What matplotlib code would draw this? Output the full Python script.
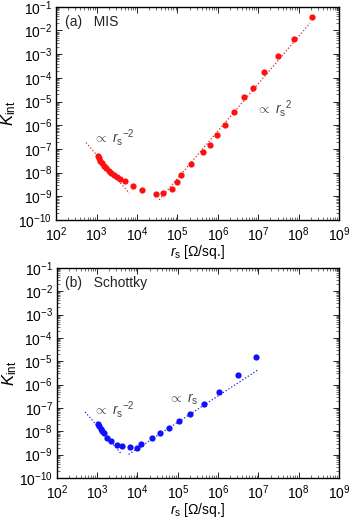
import numpy as np
import matplotlib
matplotlib.use('Agg')
import matplotlib.pyplot as plt
from matplotlib.ticker import LogLocator, NullFormatter

plt.rcParams['font.family'] = ['Liberation Sans', 'DejaVu Sans']
plt.rcParams['mathtext.fontset'] = 'custom'
plt.rcParams['mathtext.rm'] = 'Liberation Sans'
plt.rcParams['mathtext.it'] = 'Liberation Sans:italic'

# (a) MIS data, log10 values
mis_logr = [3.03, 3.05, 3.09, 3.13, 3.19, 3.24, 3.30, 3.36, 3.43, 3.50, 3.57, 3.71,
            3.89, 4.13, 4.46, 4.65, 4.87, 4.98, 5.09, 5.34, 5.63, 5.81, 5.97, 6.18,
            6.39, 6.65, 6.86, 7.15, 7.50, 7.88, 8.34]
mis_logk = [-7.29, -7.39, -7.49, -7.60, -7.71, -7.81, -7.91, -8.00, -8.08, -8.17, -8.26, -8.36,
            -8.55, -8.73, -8.88, -8.84, -8.69, -8.38, -8.12, -7.63, -7.11, -6.82, -6.43, -5.99,
            -5.46, -4.81, -4.43, -3.74, -3.09, -2.35, -1.42]
# guide lines (log10 endpoints)
mis_fit1_r = [2.74, 3.81]
mis_fit1_k = [-6.73, -8.87]
mis_fit2_r = [4.55, 8.28]
mis_fit2_k = [-9.15, -1.69]

# (b) Schottky data
sch_logr = [3.02, 3.05, 3.09, 3.13, 3.17, 3.24, 3.35, 3.49, 3.61, 3.82, 3.98, 4.09,
            4.37, 4.57, 4.78, 5.02, 5.31, 5.65, 6.03, 6.49, 6.93]
sch_logk = [-7.67, -7.77, -7.89, -7.99, -8.07, -8.29, -8.40, -8.57, -8.64, -8.69, -8.71, -8.54,
            -8.29, -8.07, -7.86, -7.56, -7.27, -6.83, -6.33, -5.60, -4.83]
sch_fit1_r = [2.70, 3.61]
sch_fit1_k = [-7.17, -8.99]
sch_fit2_r = [3.78, 6.97]
sch_fit2_k = [-8.99, -5.39]

fig = plt.figure(figsize=(3.51, 5.19), dpi=100)
ax1 = fig.add_axes([0.160, 0.576, 0.806, 0.411])
ax2 = fig.add_axes([0.162, 0.079, 0.804, 0.405])


def setup(ax):
    ax.set_xscale('log')
    ax.set_yscale('log')
    ax.set_xlim(1e2, 1e9)
    ax.set_ylim(1e-10, 1e-1)
    ax.xaxis.set_major_locator(LogLocator(base=10, numticks=20))
    ax.yaxis.set_major_locator(LogLocator(base=10, numticks=20))
    ax.xaxis.set_minor_locator(LogLocator(base=10, subs=np.arange(2, 10), numticks=20))
    ax.yaxis.set_minor_locator(LogLocator(base=10, subs=np.arange(2, 10), numticks=20))
    ax.xaxis.set_minor_formatter(NullFormatter())
    ax.yaxis.set_minor_formatter(NullFormatter())
    ax.tick_params(which='both', direction='in', top=True, right=True, labelsize=10)
    ax.tick_params(axis='x', pad=4)
    ax.tick_params(axis='y', pad=3)
    ax.tick_params(which='major', length=4, width=0.6)
    ax.tick_params(which='minor', length=2, width=0.4)
    for s in ax.spines.values():
        s.set_linewidth(1.0)
    ax.set_xlabel(r'$r_{\rm s}$ [Ω/sq.]', fontsize=10, labelpad=-1)
    ax.set_ylabel(r'$K_{\rm int}$', fontsize=12, labelpad=0)


def pw(v):
    return 10 ** np.array(v)


setup(ax1)
ax1.plot(pw(mis_fit1_r), pw(mis_fit1_k), ':', color='#e02020', lw=0.9)
ax1.plot(pw(mis_fit2_r), pw(mis_fit2_k), ':', color='#e02020', lw=0.9)
ax1.plot(pw(mis_logr), pw(mis_logk), 'o', color='#ff1010', ms=4.5, mec='none')
ax1.text(0.03, 0.93, '(a)   MIS', transform=ax1.transAxes, fontsize=10, va='center', color='#222222')
ax1.text(10 ** 2.9, 10 ** -6.5, r'$\propto\ r_{\rm s}{}^{-2}$', fontsize=10, va='center', color='#444444')
ax1.text(10 ** 6.95, 10 ** -5.3, r'$\propto\ r_{\rm s}{}^{2}$', fontsize=10, va='center', color='#444444')

setup(ax2)
ax2.plot(pw(sch_fit1_r), pw(sch_fit1_k), ':', color='#2020e0', lw=0.9)
ax2.plot(pw(sch_fit2_r), pw(sch_fit2_k), ':', color='#2020e0', lw=0.9)
ax2.plot(pw(sch_logr), pw(sch_logk), 'o', color='#1010ff', ms=4.5, mec='none')
ax2.text(0.03, 0.93, '(b)   Schottky', transform=ax2.transAxes, fontsize=10, va='center', color='#222222')
ax2.text(10 ** 2.9, 10 ** -7.05, r'$\propto\ r_{\rm s}{}^{-2}$', fontsize=10, va='center', color='#444444')
ax2.text(10 ** 4.75, 10 ** -6.65, r'$\propto\ r_{\rm s}$', fontsize=10, va='center', color='#444444')

fig.savefig('out.png', dpi=100)
